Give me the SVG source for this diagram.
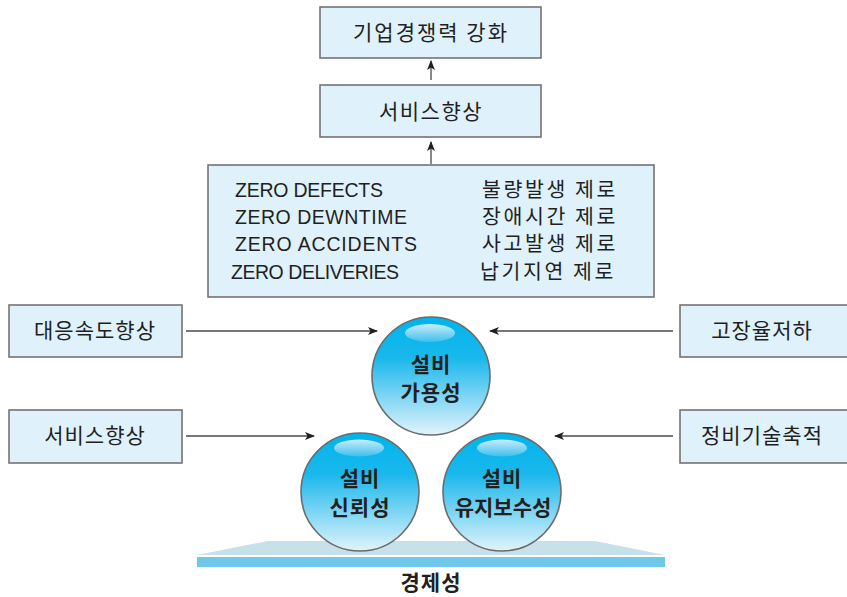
<svg xmlns="http://www.w3.org/2000/svg" width="847" height="597" viewBox="0 0 847 597">
<style>
.box{fill:#dff1fb;stroke:#747474;stroke-width:1.6}
.t{font-family:"Noto Sans CJK KR","Noto Sans",sans-serif;font-size:21px;fill:#231f20;text-anchor:middle}
.z{font-family:"Liberation Sans","Noto Sans CJK KR",sans-serif;font-size:19.5px;fill:#231f20}
.k{font-family:"Noto Sans CJK KR",sans-serif;font-size:20.5px;fill:#231f20;letter-spacing:2.6px}
.b{font-family:"Noto Sans CJK KR",sans-serif;font-size:21px;font-weight:bold;fill:#231f20;text-anchor:middle}
.ball{fill:url(#g);stroke:#6b6b6b;stroke-width:1.6}
.hl{fill:url(#h)}
.c{stroke:#4a4a4a;stroke-width:1.3;fill:none;marker-end:url(#a)}
</style>
<defs>
<linearGradient id="g" x1="0" y1="0" x2="0" y2="1">
<stop offset="0" stop-color="#00b4ec"/>
<stop offset="0.35" stop-color="#1ab8ec"/>
<stop offset="1" stop-color="#e2f3fb"/>
</linearGradient>
<linearGradient id="h" x1="0" y1="0" x2="0" y2="1">
<stop offset="0" stop-color="#c9ecfa"/>
<stop offset="1" stop-color="#3cc0ee"/>
</linearGradient>
<marker id="a" markerWidth="10" markerHeight="8" refX="9" refY="4" orient="auto" markerUnits="userSpaceOnUse">
<path d="M0,0 L10,4 L0,8 L2.5,4 Z" fill="#231f20"/>
</marker>
</defs>

<g id="connectors">
<line class="c" x1="431" y1="80" x2="431" y2="61"/>
<line class="c" x1="431" y1="164" x2="431" y2="142"/>
<line class="c" x1="186" y1="331" x2="377" y2="331"/>
<line class="c" x1="186" y1="436" x2="314" y2="436"/>
<line class="c" x1="673" y1="331" x2="490" y2="331"/>
<line class="c" x1="673" y1="436" x2="555" y2="436"/>
</g>

<g id="top">
<rect class="box" x="320" y="7" width="221" height="51"/>
<text class="t" x="431" y="40" font-size="22" letter-spacing="2">기업경쟁력 강화</text>
</g>
<g id="service">
<rect class="box" x="320" y="85" width="221" height="52"/>
<text class="t" x="431" y="119" letter-spacing="1.5">서비스향상</text>
</g>
<g id="zero">
<rect class="box" x="208" y="165" width="446" height="132"/>
<text class="z" x="235" y="197" textLength="148">ZERO DEFECTS</text>
<text class="z" x="235" y="224" textLength="172">ZERO DEWNTIME</text>
<text class="z" x="235" y="251" textLength="182">ZERO ACCIDENTS</text>
<text class="z" x="231" y="279" textLength="168">ZERO DELIVERIES</text>
<text class="k" x="482" y="197">불량발생 제로</text>
<text class="k" x="482" y="224">장애시간 제로</text>
<text class="k" x="482" y="251">사고발생 제로</text>
<text class="k" x="480" y="279">납기지연 제로</text>
</g>
<g id="left1">
<rect class="box" x="9" y="305" width="173" height="52"/>
<text class="t" x="95" y="338" letter-spacing="1">대응속도향상</text>
</g>
<g id="left2">
<rect class="box" x="9" y="410" width="173" height="53"/>
<text class="t" x="95" y="443" letter-spacing="1">서비스향상</text>
</g>
<g id="right1">
<rect class="box" x="680" y="305" width="170" height="52"/>
<text class="t" x="762" y="338" letter-spacing="1">고장율저하</text>
</g>
<g id="right2">
<rect class="box" x="680" y="410" width="170" height="53"/>
<text class="t" x="762" y="443" letter-spacing="1">정비기술축적</text>
</g>

<g id="platform">
<polygon points="268,541 595,541 665,555 197,555" fill="#c7e1eb"/>
<rect x="197" y="557" width="468" height="10" fill="#6fc8ea"/>
<text class="b" x="431" y="590" letter-spacing="1">경제성</text>
</g>

<g id="availability">
<circle class="ball" cx="431" cy="376" r="59"/>
<ellipse class="hl" cx="430" cy="333" rx="25" ry="9"/>
<text class="b" x="431" y="372" letter-spacing="1">설비</text>
<text class="b" x="431" y="400" letter-spacing="1">가용성</text>
</g>
<g id="reliability">
<circle class="ball" cx="360" cy="492" r="59"/>
<ellipse class="hl" cx="359" cy="448" rx="25" ry="8.5"/>
<text class="b" x="360" y="486" letter-spacing="1">설비</text>
<text class="b" x="360" y="515" letter-spacing="1">신뢰성</text>
</g>
<g id="maintainability">
<circle class="ball" cx="502" cy="492" r="59"/>
<ellipse class="hl" cx="502" cy="448" rx="25" ry="8.5"/>
<text class="b" x="502" y="486" letter-spacing="1">설비</text>
<text class="b" x="503" y="515">유지보수성</text>
</g>
</svg>
